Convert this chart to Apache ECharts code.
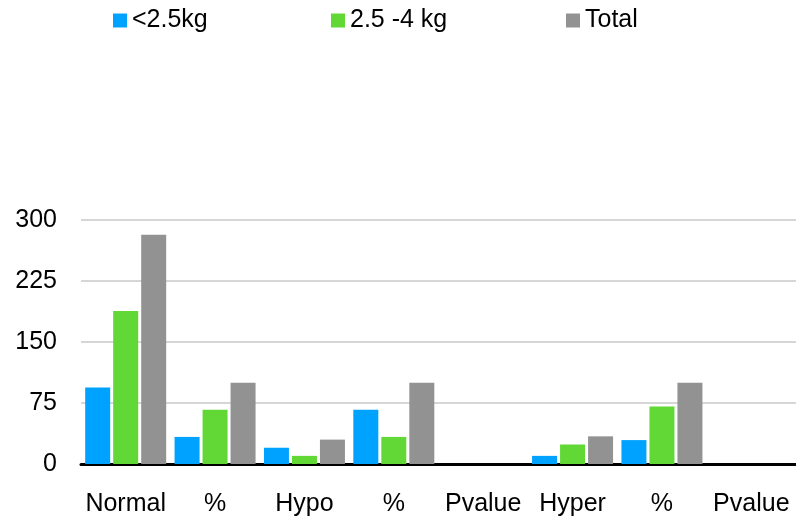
<!DOCTYPE html>
<html><head><meta charset="utf-8">
<script src="https://cdn.jsdelivr.net/npm/echarts@6/dist/echarts.min.js"></script>
<style>html,body{margin:0;padding:0;background:#fff}#c{width:796px;height:520px}</style>
</head><body><div id="c"></div>
<script>
const categories = ['Normal', '%', 'Hypo', '%', 'Pvalue', 'Hyper', '%', 'Pvalue'];
const seriesNames = ['<2.5kg', '2.5 -4 kg', 'Total'];
const lowWeight = [94, 33.3, 20, 66.7, 0, 10, 29.4, 0];
const normalWeight = [188, 66.7, 10, 33.3, 0, 24, 70.6, 0];
const total = [282, 100, 30, 100, 0, 34, 100, 0];
const yTicks = [0, 75, 150, 225, 300];
const colors = ['#00A2FF', '#62D836', '#929292'];

const font = 'Liberation Sans, Arial, sans-serif';
const chart = echarts.init(document.getElementById('c'));
const values = [lowWeight, normalWeight, total];
const legendLeft = [113, 331, 566];
chart.setOption({
  animation: false,
  textStyle: { fontFamily: font },
  legend: seriesNames.map((n, i) => ({
    data: [n], left: legendLeft[i], top: 8, padding: 0, icon: 'rect', itemWidth: 14, itemHeight: 14, itemGap: 5,
    textStyle: { fontSize: 25, color: '#000', fontFamily: font, padding: [2, 0, 0, 0] }
  })),
  grid: { left: 81, right: 0, top: 220, bottom: 56, containLabel: false },
  xAxis: {
    type: 'category', data: categories,
    axisLine: { lineStyle: { color: '#000', width: 3 } },
    axisTick: { show: false },
    axisLabel: { fontSize: 25, color: '#000', margin: 28, fontFamily: font, interval: 0 }
  },
  yAxis: {
    type: 'value', min: yTicks[0], max: yTicks[yTicks.length - 1], interval: yTicks[1] - yTicks[0],
    axisLine: { show: false }, axisTick: { show: false },
    axisLabel: { fontSize: 25, color: '#000', margin: 24, fontFamily: font },
    splitLine: { lineStyle: { color: '#c8c8c8', width: 1.5 } }
  },
  series: seriesNames.map((n, i) => ({
    name: n, type: 'bar', data: values[i], barWidth: 25, barGap: '12%',
    itemStyle: { color: colors[i] }
  }))
});
</script></body></html>
